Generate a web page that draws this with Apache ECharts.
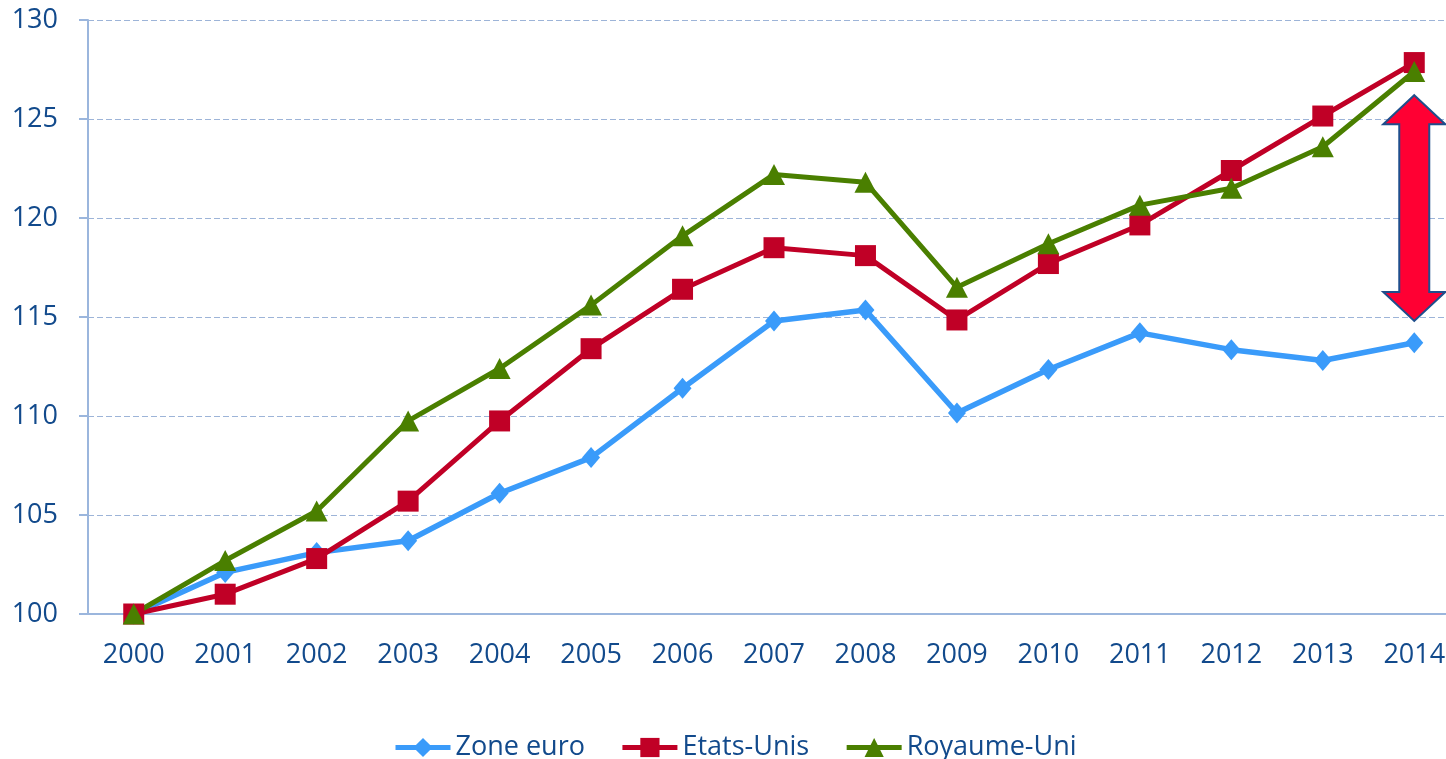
<!DOCTYPE html>
<html lang="fr">
<head>
    <meta charset="utf-8">
    <title>Zone euro, Etats-Unis, Royaume-Uni</title>
    <script src="https://cdn.jsdelivr.net/npm/echarts@6/dist/echarts.min.js"></script>
    <style>
        html, body { margin: 0; padding: 0; background: #fff; }
        #chartMain { width: 1446px; height: 759px; }
    </style>
</head>
<body>
    <div id="chartMain"></div>
    <script type="text/javascript">
        var years = ['2000', '2001', '2002', '2003', '2004', '2005', '2006', '2007',
                     '2008', '2009', '2010', '2011', '2012', '2013', '2014'];
        var zoneEuro = [100, 102.1, 103.1, 103.7, 106.1, 107.9, 111.4, 114.8,
                        115.35, 110.15, 112.35, 114.2, 113.35, 112.8, 113.7];
        var etatsUnis = [100, 101.0, 102.8, 105.7, 109.75, 113.4, 116.4, 118.5,
                         118.1, 114.85, 117.7, 119.65, 122.4, 125.15, 127.85];
        var royaumeUni = [100, 102.7, 105.2, 109.75, 112.4, 115.6, 119.1, 122.2,
                          121.8, 116.5, 118.7, 120.65, 121.5, 123.6, 127.4];
        // ecart montre par la double fleche (annee 2014)
        var arrowYear = '2014';
        var arrowTop = 126.2;
        var arrowBottom = 114.8;

        var textColor = '#124A8C';
        var font = '"Open Sans", "Liberation Sans", sans-serif';

        var chart = echarts.init(document.getElementById('chartMain'));
        var option = {
            animation: false,
            textStyle: { fontFamily: font },
            grid: { left: 88, top: 20, right: -14, height: 594, outerBoundsMode: 'none' },
            legend: {
                top: 729,
                left: 388,
                itemWidth: 55,
                itemHeight: 24,
                itemGap: 35,
                lineStyle: { width: 5 },
                textStyle: { fontSize: 27, color: textColor, fontFamily: font },
                data: ['Zone euro', 'Etats-Unis', 'Royaume-Uni']
            },
            xAxis: {
                type: 'category',
                data: years,
                axisLine: { lineStyle: { color: '#9BB6DD', width: 2 } },
                axisTick: { length: 10, lineStyle: { color: '#9BB6DD', width: 2 } },
                axisLabel: { fontSize: 27, color: textColor, margin: 28 }
            },
            yAxis: {
                type: 'value',
                min: 100,
                max: 130,
                interval: 5,
                axisLine: { show: true, lineStyle: { color: '#9BB6DD', width: 2 } },
                axisTick: { show: true, length: 9, lineStyle: { color: '#9BB6DD', width: 2 } },
                axisLabel: { fontSize: 27, color: textColor, margin: 30 },
                splitLine: { lineStyle: { color: '#9DB4D8', type: [6, 3], width: 1 } }
            },
            series: [{
                name: 'Zone euro',
                type: 'line',
                data: zoneEuro,
                symbol: 'diamond',
                symbolSize: [18, 21],
                lineStyle: { color: '#3A9BFA', width: 5.5 },
                itemStyle: { color: '#3A9BFA' }
            }, {
                name: 'Etats-Unis',
                type: 'line',
                data: etatsUnis,
                symbol: 'rect',
                symbolSize: 21,
                lineStyle: { color: '#C00026', width: 5 },
                itemStyle: { color: '#C00026' }
            }, {
                name: 'Royaume-Uni',
                type: 'line',
                data: royaumeUni,
                symbol: 'triangle',
                symbolSize: [22, 21],
                lineStyle: { color: '#4A7F00', width: 5 },
                itemStyle: { color: '#4A7F00' }
            }]
        };
        chart.setOption(option);

        // double fleche placee avec les echelles du graphique
        var pTop = chart.convertToPixel({ gridIndex: 0 }, [arrowYear, arrowTop]);
        var pBot = chart.convertToPixel({ gridIndex: 0 }, [arrowYear, arrowBottom]);
        var cx = pTop[0];
        var headH = 29, headW = 31, shaftW = 15;
        chart.setOption({
            graphic: [{
                type: 'polygon',
                z: 100,
                shape: {
                    points: [
                        [cx, pTop[1]],
                        [cx + headW, pTop[1] + headH],
                        [cx + shaftW, pTop[1] + headH],
                        [cx + shaftW, pBot[1] - headH],
                        [cx + headW, pBot[1] - headH],
                        [cx, pBot[1]],
                        [cx - headW, pBot[1] - headH],
                        [cx - shaftW, pBot[1] - headH],
                        [cx - shaftW, pTop[1] + headH],
                        [cx - headW, pTop[1] + headH]
                    ]
                },
                style: { fill: '#FF0033', stroke: '#1F4E8C', lineWidth: 2 }
            }]
        });
    </script>
</body>
</html>
